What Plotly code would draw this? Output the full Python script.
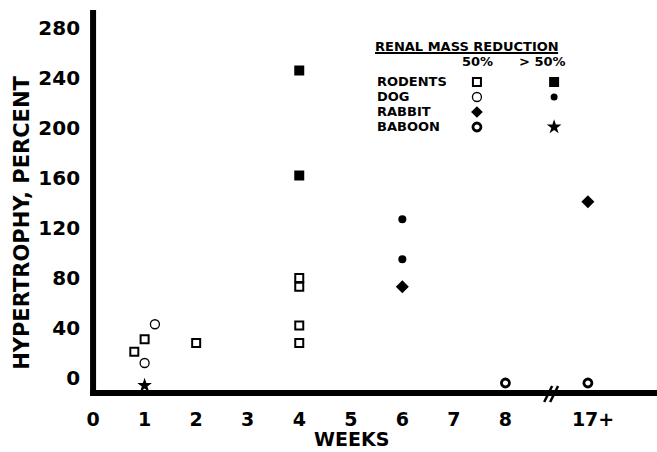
import plotly.graph_objects as go

# ---------------- data ----------------
X_17PLUS = 9.6          # axis position used for the "17+" column (after the break)

rodents_50_x = [0.8, 1.0, 2.0, 4.0, 4.0, 4.0, 4.0]
rodents_50_y = [21, 31, 28, 80, 73, 42, 28]
rodents_gt50_x = [4.0, 4.0]
rodents_gt50_y = [246, 162]
dog_50_x = [1.2, 1.0]
dog_50_y = [43, 12]
dog_gt50_x = [6.0, 6.0]
dog_gt50_y = [127, 95]
rabbit_50_x = [6.0, X_17PLUS]
rabbit_50_y = [73, 141]
baboon_50_x = [8.0, X_17PLUS]
baboon_50_y = [-4, -4]
baboon_gt50_x = [1.0]
baboon_gt50_y = [-6]

x_tickvals = [0, 1, 2, 3, 4, 5, 6, 7, 8, 9.7]
x_ticktext = ["0", "1", "2", "3", "4", "5", "6", "7", "8", "17+"]
y_tickvals = [0, 40, 80, 120, 160, 200, 240, 280]

legend_rows = ["RODENTS", "DOG", "RABBIT", "BABOON"]

# ---------------- layout helpers ----------------
W, H = 657, 452
def px(x):
    return x / W
def py(y):
    return 1 - y / H

FONT = "DejaVu Sans"
BLACK = "black"

fig = go.Figure()

def add(x, y, symbol, size, lw=0, axes=("x", "y")):
    fig.add_trace(go.Scatter(
        x=x, y=y, mode="markers", xaxis=axes[0], yaxis=axes[1],
        marker=dict(symbol=symbol, size=size, color=BLACK,
                    line=dict(color=BLACK, width=lw)),
        showlegend=False, hoverinfo="x+y"))

# data marks
add(rodents_50_x, rodents_50_y, "square-open", 8, 2)
add(rodents_gt50_x, rodents_gt50_y, "square", 10)
add(dog_50_x, dog_50_y, "circle-open", 9, 1.3)
add(dog_gt50_x, dog_gt50_y, "circle", 8)
add(rabbit_50_x, rabbit_50_y, "diamond", 10)
add(baboon_50_x, baboon_50_y, "circle-open", 8, 2.8)
add(baboon_gt50_x, baboon_gt50_y, "star", 11)

# legend key marks (pixel overlay axes covering the whole figure)
col1, col2 = 475, 553
rows_y = [82, 97, 112, 127]
ov = ("x2", "y2")
add([col1], [rows_y[0]], "square-open", 8, 2, axes=ov)
add([col2], [rows_y[0]], "square", 10, axes=ov)
add([col1], [rows_y[1]], "circle-open", 9, 1.3, axes=ov)
add([col2], [rows_y[1]], "circle", 7, axes=ov)
add([col1], [rows_y[2]], "diamond", 9, axes=ov)
add([col1], [rows_y[3]], "circle-open", 8, 2.8, axes=ov)
add([col2], [rows_y[3]], "star", 11, axes=ov)

x0_px, unit_px = 87, 52.1
y_bot_px, y_top_px = 393, 10

fig.update_layout(
    width=W, height=H,
    margin=dict(l=0, r=0, t=0, b=0),
    paper_bgcolor="white", plot_bgcolor="rgba(0,0,0,0)",
    xaxis=dict(domain=[px(x0_px), 1], range=[0, (W - x0_px) / unit_px],
               tickvals=x_tickvals, ticktext=x_ticktext,
               ticks="outside", ticklen=9, tickcolor="rgba(0,0,0,0)",
               tickfont=dict(family=FONT, size=19, color=BLACK, weight="bold"),
               showgrid=False, zeroline=False, showline=False),
    yaxis=dict(domain=[py(y_bot_px), py(y_top_px)], range=[-12, 294.4],
               tickvals=y_tickvals,
               ticks="outside", ticklen=8, tickcolor="rgba(0,0,0,0)",
               tickfont=dict(family=FONT, size=20, color=BLACK, weight="bold"),
               showgrid=False, zeroline=False, showline=False),
    xaxis2=dict(domain=[0, 1], range=[0, W], visible=False, anchor="y2"),
    yaxis2=dict(domain=[0, 1], range=[H, 0], visible=False, anchor="x2"),
    showlegend=False,
)

# axis lines and break
fig.add_shape(type="line", xref="paper", yref="paper",
              x0=px(87), x1=px(87), y0=py(10), y1=py(396),
              line=dict(color=BLACK, width=6))
fig.add_shape(type="line", xref="paper", yref="paper",
              x0=px(84), x1=px(657), y0=py(393), y1=py(393),
              line=dict(color=BLACK, width=6))
for dx in (0, 6):
    fig.add_shape(type="line", xref="paper", yref="paper",
                  x0=px(543 + dx), x1=px(551 + dx), y0=py(402), y1=py(386),
                  line=dict(color=BLACK, width=2.5))

def text(t, x, y, size, xanchor="center", yanchor="middle", angle=0):
    fig.add_annotation(text=t, xref="paper", yref="paper", x=px(x), y=py(y),
                       xanchor=xanchor, yanchor=yanchor, textangle=angle,
                       showarrow=False,
                       font=dict(family=FONT, size=size, color=BLACK, weight="bold"))

# axis titles
text("HYPERTROPHY, PERCENT", 15, 223, 21, angle=-90)
text("WEEKS", 348, 452, 19, yanchor="bottom")

# legend texts
text("RENAL MASS REDUCTION", 465, 46, 13)
fig.add_shape(type="line", xref="paper", yref="paper",
              x0=px(372), x1=px(557), y0=py(53), y1=py(53),
              line=dict(color=BLACK, width=2))
text("50%", 476, 62, 13)
text("> 50%", 541, 62, 13)
for name, yy in zip(legend_rows, rows_y):
    text(name, 372, yy, 13, xanchor="left")

fig.write_html("out.html")
